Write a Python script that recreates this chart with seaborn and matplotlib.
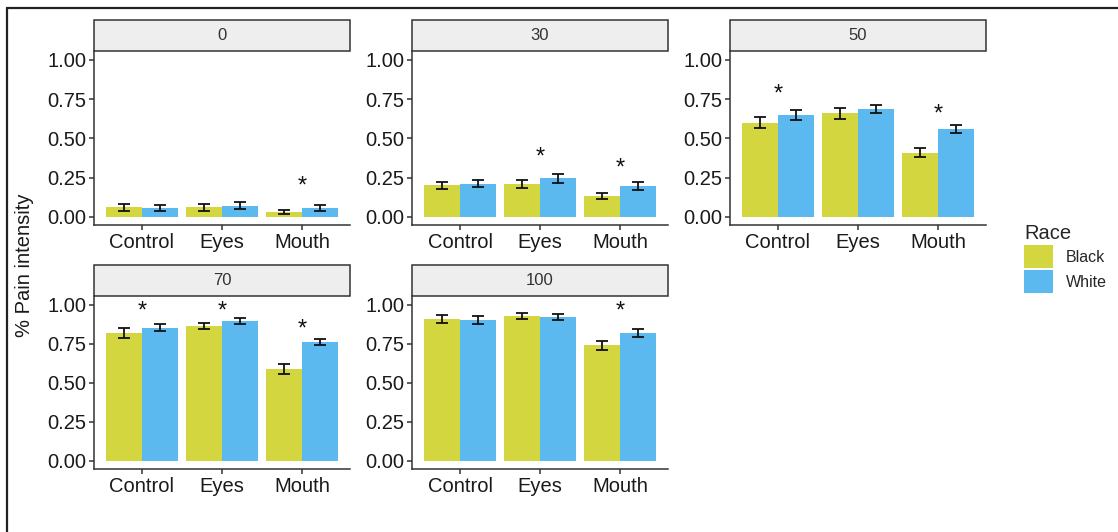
import pandas as pd
import numpy as np
import seaborn as sns
import matplotlib.pyplot as plt
from matplotlib.patches import Rectangle, Patch
from matplotlib.lines import Line2D

# données
panels = ['0', '30', '50', '70', '100']
faces = ['Control', 'Eyes', 'Mouth']
races = ['Black', 'White']

black_mean = [[0.06, 0.06, 0.03],
              [0.20, 0.21, 0.135],
              [0.60, 0.66, 0.41],
              [0.82, 0.865, 0.59],
              [0.91, 0.93, 0.74]]
white_mean = [[0.055, 0.07, 0.055],
              [0.21, 0.245, 0.195],
              [0.65, 0.69, 0.56],
              [0.855, 0.895, 0.76],
              [0.905, 0.92, 0.82]]
black_se = [[0.022, 0.022, 0.015],
            [0.025, 0.025, 0.02],
            [0.035, 0.035, 0.027],
            [0.03, 0.022, 0.032],
            [0.025, 0.02, 0.027]]
white_se = [[0.02, 0.022, 0.02],
            [0.022, 0.03, 0.025],
            [0.03, 0.025, 0.025],
            [0.025, 0.02, 0.02],
            [0.025, 0.02, 0.025]]

# étoiles : (panel, face, hauteur)
stars = [('0', 'Mouth', 0.19),
         ('30', 'Eyes', 0.38), ('30', 'Mouth', 0.31),
         ('50', 'Control', 0.78), ('50', 'Mouth', 0.65),
         ('70', 'Control', 0.955), ('70', 'Eyes', 0.955), ('70', 'Mouth', 0.84),
         ('100', 'Mouth', 0.955)]

colors = {'Black': '#D4D640', 'White': '#5BB9F0'}

rows = []
for p, bm, wm in zip(panels, black_mean, white_mean):
    for f, b, w in zip(faces, bm, wm):
        rows.append({'panel': p, 'Face': f, 'Race': 'Black', 'value': b})
        rows.append({'panel': p, 'Face': f, 'Race': 'White', 'value': w})
df = pd.DataFrame(rows)

sns.set_theme(style='ticks')
plt.rcParams['font.family'] = ['Liberation Sans', 'DejaVu Sans']

W, H = 1118, 532
fig = plt.figure(figsize=(W / 100, H / 100), dpi=100)

# positions des panneaux en pixels (gauche, haut, bas)
lefts = [94, 412, 730, 94, 412]
tops = [51, 51, 51, 296, 296]
bottoms = [225, 225, 225, 469, 469]
pw = 256

dark = '#333333'
for k, p in enumerate(panels):
    ax = fig.add_axes([lefts[k] / W, (H - bottoms[k]) / H, pw / W,
                       (bottoms[k] - tops[k]) / H])
    sub = df[df['panel'] == p]
    sns.barplot(data=sub, x='Face', y='value', hue='Race', order=faces,
                hue_order=races, palette=colors, errorbar=None, width=0.9,
                saturation=1, legend=False, linewidth=0, ax=ax)
    for cont, se in zip(ax.containers, [black_se[k], white_se[k]]):
        for bar, s in zip(cont, se):
            ax.errorbar(bar.get_x() + bar.get_width() / 2, bar.get_height(),
                        yerr=s, fmt='none', ecolor='#111111', elinewidth=1.3,
                        capsize=4, capthick=1.3)
    for sp, f, y in stars:
        if sp == p:
            ax.text(faces.index(f), y, '*', ha='center', va='center',
                    fontsize=17, color='#111111')
    ax.set_xlim(-0.6, 2.6)
    ax.set_ylim(-0.052, 1.057)
    ax.set_yticks([0, 0.25, 0.5, 0.75, 1.0])
    ax.set_yticklabels(['0.00', '0.25', '0.50', '0.75', '1.00'])
    ax.set_xlabel('')
    ax.set_ylabel('')
    sns.despine(ax=ax)
    for s in ['left', 'bottom']:
        ax.spines[s].set_color(dark)
        ax.spines[s].set_linewidth(1.1)
    ax.tick_params(colors=dark, labelcolor='#1a1a1a', labelsize=14.5,
                   length=3.5, width=1.1, pad=2)
    # bandeau du facet
    strip_h = 31 / (bottoms[k] - tops[k])
    ax.add_patch(Rectangle((0, 1), 1, strip_h, transform=ax.transAxes,
                           facecolor='#EEEEEE', edgecolor=dark, linewidth=1.1,
                           clip_on=False))
    ax.text(0.5, 1 + strip_h / 2, p, transform=ax.transAxes, ha='center',
            va='center', fontsize=12, color='#333333')

fig.text(25 / W, (H - 265) / H, '% Pain intensity', rotation=90,
         ha='center', va='center', fontsize=14.5, color='#1a1a1a')

handles = [Patch(facecolor=colors[r], edgecolor='none') for r in races]
leg = fig.legend(handles, races, title='Race', loc='upper left',
                 bbox_to_anchor=(1016 / W, (H - 216) / H), frameon=False,
                 fontsize=11.5, title_fontsize=14.5, handlelength=1.8,
                 handleheight=1.8, handletextpad=0.8, labelspacing=0.15,
                 borderpad=0, alignment='left')

# cadre de la capture
fig.add_artist(Line2D([7 / W, 1], [(H - 8) / H, (H - 8) / H],
                      transform=fig.transFigure, color='#222222', lw=1.6))
fig.add_artist(Line2D([7 / W, 7 / W], [0, (H - 8) / H],
                      transform=fig.transFigure, color='#222222', lw=1.6))

fig.savefig('out.png', dpi=100)
